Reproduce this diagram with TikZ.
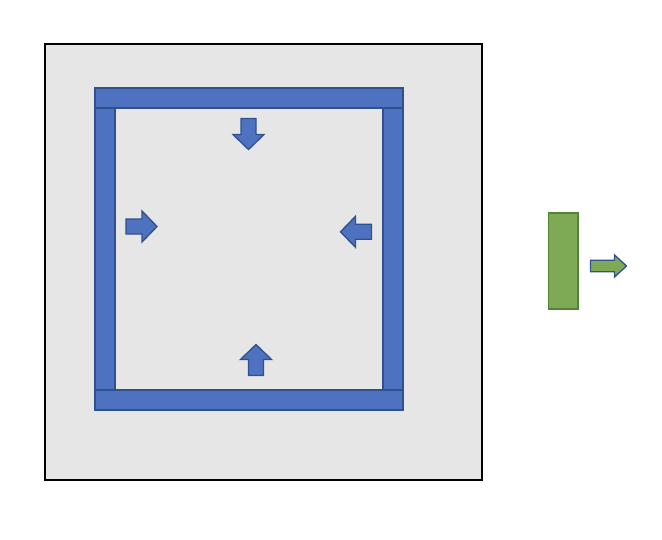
\documentclass[tikz,border=0pt]{standalone}
\usetikzlibrary{positioning}
\definecolor{grigio}{HTML}{E6E6E6}
\definecolor{blu}{HTML}{4E72BF}
\definecolor{blubordo}{HTML}{2F528F}
\definecolor{verde}{HTML}{7EAA55}
\definecolor{verdebordo}{HTML}{548235}
\tikzset{
    barra/.style = {fill = blu, draw = blubordo, line width = 1pt},
    freccia/.pic = {
        \draw[pic actions] (0,-7.5) -- (16,-7.5) -- (16,-15.5) -- (31,0) -- (16,15.5) -- (16,7.5) -- (0,7.5) -- cycle;
    },
    frecciapiccola/.pic = {
        \draw[pic actions] (0,-5.8) -- (24,-5.8) -- (24,-11) -- (36,0) -- (24,11) -- (24,5.8) -- (0,5.8) -- cycle;
    }
}
\begin{document}
\begin{tikzpicture}[x = 0.75pt, y = -0.75pt]
    % Cornice
    \useasboundingbox (0,0) rectangle (662,540);
    % Scatola esterna
    \draw[fill = grigio, line width = 1.2pt] (45,44) rectangle (482,480);
    % Barre verticali
    \draw[barra] (95,88) rectangle (115,410);
    \draw[barra] (383,88) rectangle (403,410);
    % Barre orizzontali
    \draw[barra] (95,88) rectangle (403,108);
    \draw[barra] (95,390) rectangle (403,410);
    % Frecce verso l'interno
    \pic[fill = blu, draw = blubordo, line width = 1pt, rotate = -90] at (248.5,118.5) {freccia};
    \pic[fill = blu, draw = blubordo, line width = 1pt] at (126,226.5) {freccia};
    \pic[fill = blu, draw = blubordo, line width = 1pt, rotate = 180] at (371.5,231.8) {freccia};
    \pic[fill = blu, draw = blubordo, line width = 1pt, rotate = 90] at (256,375.5) {freccia};
    % Rettangolo verde
    \draw[fill = verde, draw = verdebordo, line width = 1.2pt] (548.5,213) rectangle (578,309);
    \pic[fill = verde, draw = blubordo, line width = 1pt] at (590.5,266) {frecciapiccola};
\end{tikzpicture}
\end{document}
